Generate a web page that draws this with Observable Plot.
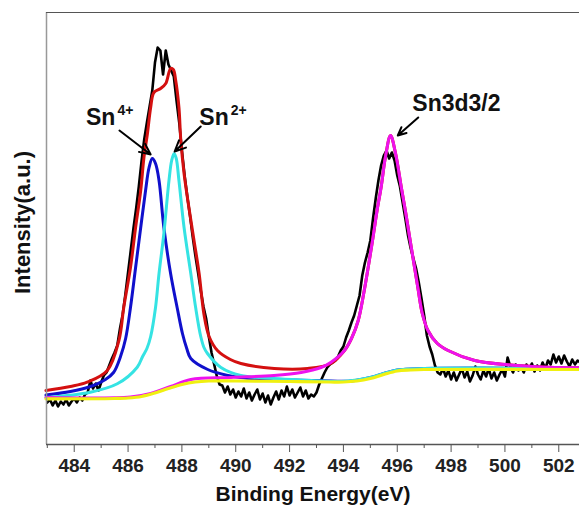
<!DOCTYPE html>
<html>
<head>
<meta charset="utf-8">
<script src="https://cdn.jsdelivr.net/npm/d3@7"></script>
<script src="https://cdn.jsdelivr.net/npm/@observablehq/plot@0.6"></script>
<style>
  html, body { margin: 0; padding: 0; background: #fff; }
  #chart svg { display: block; }
</style>
</head>
<body>
<div id="chart"></div>
<script>
// Sn 3d XPS spectrum: raw counts on a 0.1 eV grid starting at 483.0 eV
const rawStart = 483.0;
const rawStep = 0.1;
const rawCounts = [
  42, 45, 39, 44, 38, 43, 40, 45, 39, 43,
  46, 42, 47, 44, 50, 52, 64, 56, 61, 54,
  62, 69, 72, 79, 86, 92, 99, 116, 130, 150,
  172, 194, 216, 236, 258, 283, 305, 322, 338, 354,
  382, 397, 394, 370, 394, 380, 374, 368, 344, 322,
  294, 269, 248, 229, 208, 189, 172, 154, 138, 126,
  108, 92, 80, 68, 60, 59, 52, 58, 50, 55,
  47, 53, 48, 56, 46, 52, 44, 50, 55, 45,
  51, 42, 49, 40, 47, 53, 45, 54, 48, 58,
  49, 55, 47, 52, 57, 48, 54, 46, 50, 48,
  52, 60, 66, 72, 77, 80, 82, 84, 88, 94,
  98, 107, 114, 122, 129, 139, 149, 169, 182, 192,
  204, 226, 246, 264, 279, 289, 294, 286, 292, 284,
  269, 258, 242, 226, 209, 196, 186, 176, 162, 146,
  129, 109, 98, 90, 79, 72, 70, 76, 68, 74,
  65, 72, 64, 70, 76, 67, 73, 63, 69, 78,
  70, 65, 74, 68, 76, 66, 72, 64, 70, 75,
  68, 87, 78, 72, 80, 74, 78, 72, 80, 75,
  81, 73, 79, 74, 82, 76, 84, 80, 90, 82,
  88, 81, 89, 83, 78, 85, 80, 84, 82
];

// Fitted components, [binding energy (eV), intensity (a.u.)]
const background = [
  [482.95, 45.7], [485.5, 46], [486.0, 46.5], [486.5, 48], [487.0, 51.5],
  [487.5, 56], [488.0, 60], [488.5, 62.5], [489.0, 63.5], [490.0, 63.5],
  [492.0, 63], [493.5, 62.5], [494.0, 62.5], [494.5, 63.5], [495.0, 66],
  [495.5, 70], [496.0, 73.5], [496.5, 74.5], [497.0, 75], [502.8, 75]
];
const sn4Fit = [
  [482.95, 49.5], [483.86, 53], [484.6, 58], [485.16, 65], [485.46, 72],
  [485.72, 88], [485.91, 106], [486.09, 137], [486.28, 177], [486.47, 217],
  [486.65, 254], [486.78, 277], [486.9, 286], [487.02, 281], [487.15, 264],
  [487.33, 217], [487.58, 171], [487.83, 136], [488.02, 111], [488.18, 96],
  [488.33, 86], [488.96, 75], [489.71, 69], [490.19, 67], [490.93, 65.5],
  [492.05, 64.5], [493.54, 63.5], [494.3, 63.5], [495.0, 67], [495.5, 71],
  [496.0, 74.5], [497.0, 76], [502.8, 76]
];
const sn2Fit = [
  [482.95, 47], [484.6, 52.3], [485.6, 60.7], [486.34, 77.3], [486.54, 88],
  [486.7, 96], [486.84, 108], [487.02, 137], [487.15, 171], [487.33, 211],
  [487.52, 264], [487.62, 284], [487.71, 291], [487.79, 286], [487.89, 264],
  [488.08, 217], [488.33, 171], [488.51, 137], [488.7, 108], [488.82, 97],
  [488.95, 91], [489.45, 77], [490.19, 69], [491.42, 66], [492.43, 64.5],
  [493.92, 63], [494.5, 64.5], [495.0, 67], [495.5, 71], [496.0, 74.5],
  [497.0, 76], [502.8, 76]
];
const sn3d32Fit = [
  [482.95, 47], [486.09, 47.5], [486.84, 51], [487.58, 58], [488.33, 65],
  [489.82, 67], [491.42, 69], [492.43, 72], [493.17, 77], [493.54, 82.3],
  [494.04, 94], [494.3, 106], [494.55, 124], [494.78, 155], [495.1, 207.3],
  [495.25, 234], [495.4, 257.3], [495.57, 289], [495.75, 309], [495.93, 292],
  [496.15, 257.3], [496.3, 234], [496.46, 207.3], [496.77, 156], [496.93, 131],
  [497.14, 114], [497.49, 101], [497.89, 94], [498.88, 84], [500.12, 79.7],
  [501.61, 77.3], [502.8, 76.7]
];
const envelope = [
  [482.95, 54], [483.86, 58], [484.48, 62.3], [485.23, 74], [485.66, 104],
  [485.84, 137], [486.09, 177], [486.28, 217], [486.47, 254], [486.59, 287],
  [486.72, 311], [486.84, 337], [486.96, 352], [487.21, 356], [487.4, 361],
  [487.58, 376], [487.68, 375], [487.77, 364], [487.89, 337], [487.96, 304],
  [488.08, 271], [488.26, 237], [488.45, 204], [488.64, 171], [488.82, 130],
  [489.01, 108], [489.32, 94], [489.8, 85], [490.19, 81], [491.43, 76],
  [492.67, 76], [493.54, 81], [494.04, 94], [494.3, 106], [494.55, 124],
  [494.78, 155], [495.1, 207.3], [495.25, 234], [495.4, 257.3], [495.57, 289],
  [495.75, 309], [495.93, 292], [496.15, 257.3], [496.3, 234], [496.46, 207.3],
  [496.77, 156], [496.93, 131], [497.14, 114], [497.49, 101], [497.89, 94],
  [498.88, 84], [500.12, 79.7], [501.61, 77.3], [502.8, 76.7]
];

// Axis ticks
const majorTicks = [484, 486, 488, 490, 492, 494, 496, 498, 500, 502];
const minorTicks = [483, 485, 487, 489, 491, 493, 495, 497, 499, 501];

// Peak annotations
const ionLabels = [
  {E: 485.53, I: 320, name: "Sn", sup: "4+"},
  {E: 489.74, I: 320, name: "Sn", sup: "2+"}
];
const lineLabels = [{E: 496.56, I: 334, text: "Sn3d3/2"}];
const arrows = [
  {E1: 485.68, I1: 314, E2: 486.84, I2: 290},
  {E1: 488.7, I1: 318, E2: 487.73, I2: 293},
  {E1: 496.78, I1: 327, E2: 496.02, I2: 309}
];

const raw = rawCounts.map((c, i) => ({E: rawStart + i * rawStep, I: c}));

const fitLine = (data, color, width) =>
  Plot.line(data, {x: d => d[0], y: d => d[1], stroke: color, strokeWidth: width, curve: "catmull-rom"});

const xDomain = [482.97, 502.77];

const chart = Plot.plot({
  width: 579,
  height: 506,
  marginLeft: 46,
  marginRight: 0,
  marginTop: 12,
  marginBottom: 62,
  style: {fontFamily: "'Liberation Sans', Arial, sans-serif", background: "#fff", overflow: "visible"},
  x: {domain: xDomain, label: null},
  y: {domain: [0, 432], axis: null, label: null},
  marks: [
    Plot.line(raw, {x: "E", y: "I", stroke: "#000", strokeWidth: 2.6}),
    fitLine(envelope, "#d41010", 3),
    fitLine(sn4Fit, "#1010cc", 3),
    fitLine(sn2Fit, "#35e3e3", 3),
    fitLine(sn3d32Fit, "#ee12ee", 3),
    fitLine(background, "#f0f010", 3.2),
    Plot.ruleX([xDomain[0]], {stroke: "#999", strokeWidth: 1.5}),
    Plot.ruleY([432], {stroke: "#555", strokeWidth: 1.2}),
    Plot.ruleY([0], {stroke: "#555", strokeWidth: 1.5}),
    Plot.axisX(majorTicks, {tickSize: 8, tickPadding: 6, fontSize: 19, fontWeight: "bold", stroke: "#555", fill: "#222", tickFormat: d => String(d), label: null}),
    Plot.axisX(minorTicks, {tickSize: 4, stroke: "#555", tickFormat: () => "", label: null}),
    Plot.text(["Binding Energy(eV)"], {frameAnchor: "bottom", lineAnchor: "bottom", dy: 56, fontSize: 21, fontWeight: "bold", fill: "#111"}),
    Plot.text(["Intensity(a.u.)"], {frameAnchor: "left", textAnchor: "middle", rotate: -90, dx: -24, dy: -6, fontSize: 22, fontWeight: "bold", fill: "#111"}),
    Plot.arrow(arrows, {x1: "E1", y1: "I1", x2: "E2", y2: "I2", stroke: "#000", strokeWidth: 2, headLength: 9, headAngle: 50}),
    Plot.text(ionLabels, {x: "E", y: "I", text: "name", textAnchor: "end", lineAnchor: "bottom", fontSize: 23, fontWeight: "bold", fill: "#111"}),
    Plot.text(ionLabels, {x: "E", y: "I", text: "sup", textAnchor: "start", lineAnchor: "bottom", dx: 2, dy: -10, fontSize: 14, fontWeight: "bold", fill: "#111"}),
    Plot.text(lineLabels, {x: "E", y: "I", text: "text", textAnchor: "start", lineAnchor: "bottom", fontSize: 23, fontWeight: "bold", fill: "#111"})
  ]
});

document.getElementById("chart").appendChild(chart);
</script>
</body>
</html>
